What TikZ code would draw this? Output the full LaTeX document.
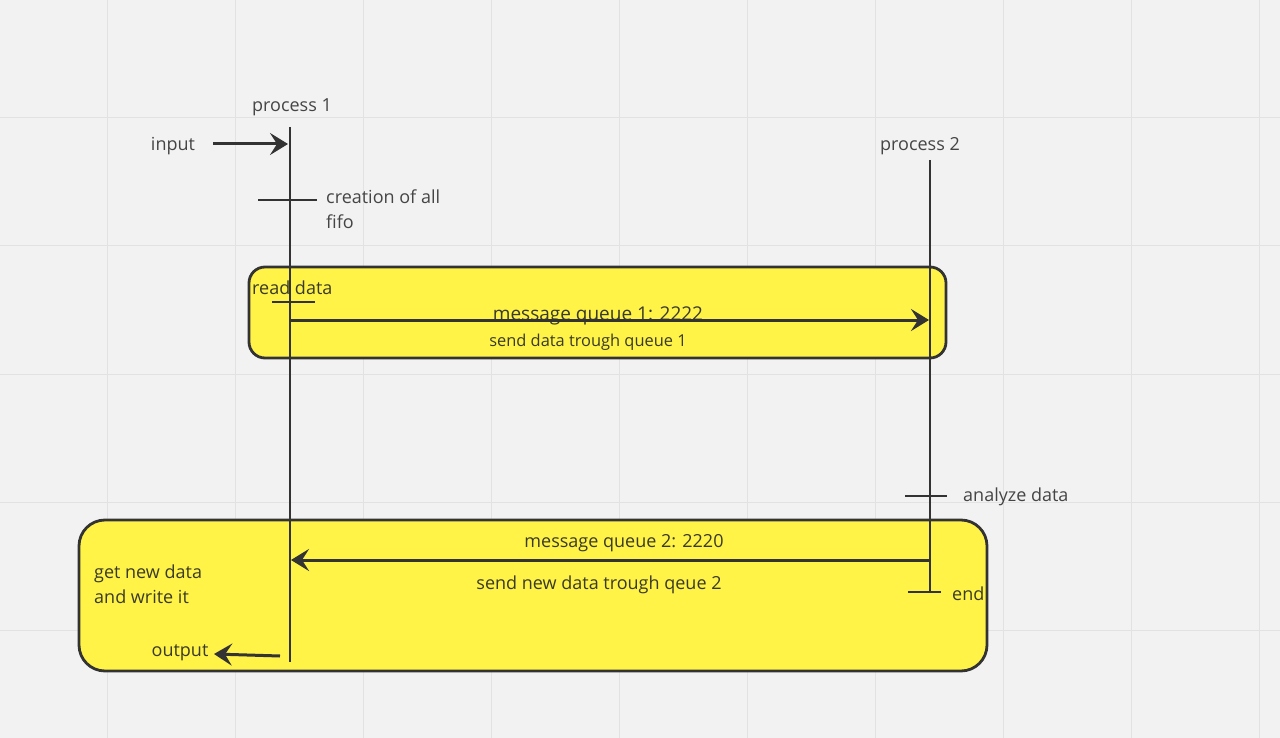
\documentclass[tikz,border=0pt]{standalone}
\usepackage{fontspec}
\setmainfont{Open Sans}
\usetikzlibrary{arrows.meta}
\definecolor{bg}{HTML}{F2F2F2}
\definecolor{gridc}{HTML}{E2E2E2}
\definecolor{ylw}{HTML}{FFF347}
\definecolor{ink}{HTML}{333333}
\definecolor{txt}{HTML}{454545}
\definecolor{txtin}{HTML}{3A3A28}
\tikzset{
  lbl/.style={inner sep=0pt, text=txt, font=\fontsize{18}{25}\selectfont},
  lblin/.style={inner sep=0pt, text=txtin, font=\fontsize{18}{25}\selectfont},
  lifeline/.style={draw=ink, line width=2.6pt},
  tick/.style={draw=ink, line width=2.6pt},
  msg/.style={draw=ink, line width=3pt, -{Stealth[length=18pt,width=22pt,inset=7pt]}},
  groupbox/.style={draw=ink, fill=ylw, line width=2.8pt},
}
\begin{document}
\begin{tikzpicture}[x=1pt,y=-1pt]
\useasboundingbox (0,0) rectangle (1280,738);
\fill[bg] (0,0) rectangle (1280,738);
% grid
\foreach \gx in {107,235,363,491,619,747,875,1003,1131,1259}
  \draw[gridc, line width=1pt] (\gx,0) -- (\gx,738);
\foreach \gy in {118,246,374,502,630}
  \draw[gridc, line width=1pt] (0,\gy) -- (1280,\gy);

% group boxes
\draw[groupbox, rounded corners=16pt] (249,267) rectangle (946,358);
\draw[groupbox, rounded corners=26pt] (79,520) rectangle (987,671);

% lifelines
\coordinate (p1top) at (290,127);
\coordinate (p1bot) at (290,662);
\coordinate (p2top) at (930,160);
\coordinate (p2bot) at (930,592);
\draw[lifeline] (p1top) -- (p1bot);
\draw[lifeline] (p2top) -- (p2bot);

% headers
\node[lbl] (proc1) at (292,107) {process 1};
\node[lbl] (proc2) at (920,146) {process 2};

% input
\node[lbl] (input) at (173,146) {input};
\coordinate (inS) at (213,144);
\coordinate (inE) at (288,144);
\draw[msg] (inS) -- (inE);

% creation tick
\coordinate (t1a) at (258,200);
\coordinate (t1b) at (317,200);
\draw[tick] (t1a) -- (t1b);
\node[lbl, anchor=north west, align=left] (creation) at (326,190) {creation of all\\fifo};

% read data
\node[lblin, anchor=west] (read) at (252,288) {read data};
\coordinate (t2a) at (272,302);
\coordinate (t2b) at (315,302);
\draw[tick] (t2a) -- (t2b);

% message queue 1
\node[lblin, font=\fontsize{19}{22}\selectfont] (mq1) at (598,316) {message queue 1: 2222};
\coordinate (m1s) at (290,320);
\coordinate (m1e) at (929,320);
\draw[msg] (m1s) -- (m1e);
\node[lblin, font=\fontsize{16.4}{20}\selectfont] (sd1) at (588,342) {send data trough queue 1};

% analyze
\coordinate (t3a) at (905,496);
\coordinate (t3b) at (947,496);
\draw[tick] (t3a) -- (t3b);
\node[lbl, anchor=west] (analyze) at (963,497) {analyze data};

% message queue 2
\node[lblin] (mq2) at (624,543) {message queue 2: 2220};
\coordinate (m2s) at (930,560);
\coordinate (m2e) at (291,560);
\draw[msg] (m2s) -- (m2e);
\node[lblin] (sd2) at (599,585) {send new data trough qeue 2};

% end
\coordinate (t4a) at (908,592);
\coordinate (t4b) at (941,592);
\draw[tick] (t4a) -- (t4b);
\node[lblin, anchor=west] (endl) at (952,594) {end};

% get new data
\node[lblin, anchor=north west, align=left] (getnew) at (94,565) {get new data\\and write it};

% output
\node[lblin] (output) at (180,653) {output};
\coordinate (oS) at (280,656);
\coordinate (oE) at (214,654);
\draw[msg] (oS) -- (oE);
\end{tikzpicture}
\end{document}
